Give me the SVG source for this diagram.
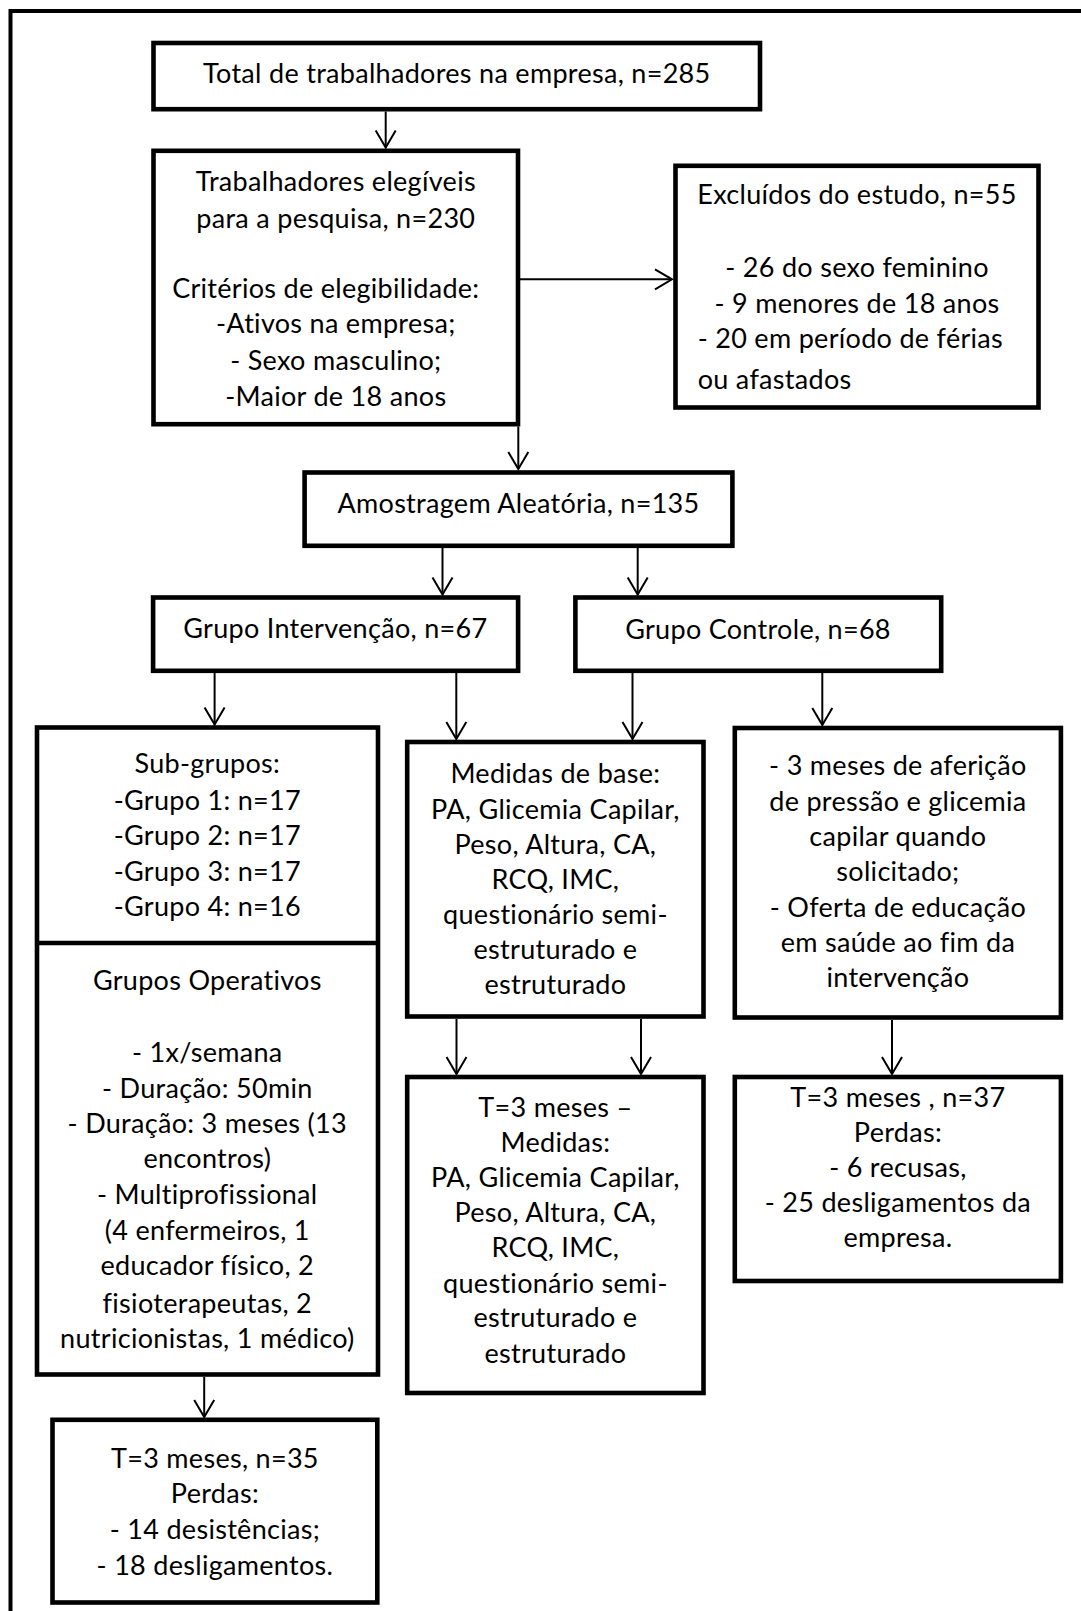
<svg xmlns="http://www.w3.org/2000/svg" width="1081" height="1611" viewBox="0 0 1081 1611">
  <style>
    .box { fill: #fff; stroke: #000; stroke-width: 4.6; }
    .frame { fill: none; stroke: #000; stroke-width: 4; }
    .link { fill: none; stroke: #000; stroke-width: 2; }
    text { font-family: Lato, "Liberation Sans", sans-serif; font-size: 27px; letter-spacing: 0.3px; font-variant-ligatures: none; fill: #000; text-anchor: middle; }
    .left { text-anchor: start; }
  </style>
  <defs>
    <marker id="arrow" markerUnits="userSpaceOnUse" viewBox="-20 -12 22 24" markerWidth="22" markerHeight="24" refX="0" refY="0" orient="auto" overflow="visible">
      <path d="M-17,-10 L0,0 L-17,10" fill="none" stroke="#000" stroke-width="2"/>
    </marker>
  </defs>
  <rect width="1081" height="1611" fill="#fff"/>

  <!-- outer frame (left and top edges) -->
  <path class="frame" d="M10.5,1611 V11 H1081"/>

  <g id="connectors">
    <line class="link" x1="385.7" y1="111.5" x2="385.7" y2="147.5" marker-end="url(#arrow)"/>
    <line class="link" x1="520" y1="279.3" x2="672" y2="279.3" marker-end="url(#arrow)"/>
    <line class="link" x1="518.3" y1="426.5" x2="518.3" y2="469" marker-end="url(#arrow)"/>
    <line class="link" x1="442.5" y1="548" x2="442.5" y2="594.5" marker-end="url(#arrow)"/>
    <line class="link" x1="637.7" y1="548" x2="637.7" y2="594.5" marker-end="url(#arrow)"/>
    <line class="link" x1="214.6" y1="673" x2="214.6" y2="724.5" marker-end="url(#arrow)"/>
    <line class="link" x1="456.3" y1="673" x2="456.3" y2="739" marker-end="url(#arrow)"/>
    <line class="link" x1="632.5" y1="673" x2="632.5" y2="739" marker-end="url(#arrow)"/>
    <line class="link" x1="822.3" y1="673" x2="822.3" y2="725" marker-end="url(#arrow)"/>
    <line class="link" x1="456.5" y1="1019" x2="456.5" y2="1074" marker-end="url(#arrow)"/>
    <line class="link" x1="641" y1="1019" x2="641" y2="1074" marker-end="url(#arrow)"/>
    <line class="link" x1="892" y1="1020" x2="892" y2="1074" marker-end="url(#arrow)"/>
    <line class="link" x1="204.2" y1="1377" x2="204.2" y2="1417" marker-end="url(#arrow)"/>
  </g>

  <g id="total">
    <rect class="box" x="153.5" y="43" width="606.5" height="66.2"/>
    <text x="456.8" y="83.3">Total de trabalhadores na empresa, n=285</text>
  </g>

  <g id="elegiveis">
    <rect class="box" x="153.5" y="150.8" width="364.5" height="273.4"/>
    <text x="335.8" y="191">Trabalhadores elegíveis</text>
    <text x="335.8" y="227.7">para a pesquisa, n=230</text>
    <text x="325.8" y="297.7">Critérios de elegibilidade:</text>
    <text x="335.8" y="333.3">-Ativos na empresa;</text>
    <text x="335.8" y="370">- Sexo masculino;</text>
    <text x="335.8" y="405.7">-Maior de 18 anos</text>
  </g>

  <g id="excluidos">
    <rect class="box" x="675.5" y="165.8" width="363" height="241.7"/>
    <text x="857" y="204">Excluídos do estudo, n=55</text>
    <text x="857" y="276.7">- 26 do sexo feminino</text>
    <text x="857" y="312.7">- 9 menores de 18 anos</text>
    <text class="left" x="697.7" y="348.3">- 20 em período de férias</text>
    <text class="left" x="697.7" y="389.3">ou afastados</text>
  </g>

  <g id="amostragem">
    <rect class="box" x="304.6" y="472.5" width="427.8" height="73.3"/>
    <text x="518.5" y="512.7">Amostragem Aleatória, n=135</text>
  </g>

  <g id="intervencao">
    <rect class="box" x="153.1" y="597.5" width="365" height="73.3"/>
    <text x="335.3" y="638.3">Grupo Intervenção, n=67</text>
  </g>

  <g id="controle">
    <rect class="box" x="575.4" y="597.5" width="365.8" height="73.3"/>
    <text x="758" y="638.8">Grupo Controle, n=68</text>
  </g>

  <g id="subgrupos">
    <rect class="box" x="37" y="727.5" width="341" height="647"/>
    <line x1="37" y1="943" x2="378" y2="943" stroke="#000" stroke-width="4.6"/>
    <text x="207.3" y="773.3">Sub-grupos:</text>
    <text x="207.3" y="810">-Grupo 1: n=17</text>
    <text x="207.3" y="845">-Grupo 2: n=17</text>
    <text x="207.3" y="880.7">-Grupo 3: n=17</text>
    <text x="207.3" y="916">-Grupo 4: n=16</text>
    <text x="207.3" y="990">Grupos Operativos</text>
    <text x="207.3" y="1061.7">- 1x/semana</text>
    <text x="207.3" y="1098.3">- Duração: 50min</text>
    <text x="207.3" y="1133.3">- Duração: 3 meses (13</text>
    <text x="207.3" y="1168.3">encontros)</text>
    <text x="207.3" y="1204.3">- Multiprofissional</text>
    <text x="207.3" y="1240">(4 enfermeiros, 1</text>
    <text x="207.3" y="1275">educador físico, 2</text>
    <text x="207.3" y="1312.7">fisioterapeutas, 2</text>
    <text x="207.3" y="1348.3">nutricionistas, 1 médico)</text>
  </g>

  <g id="medidas-base">
    <rect class="box" x="407.2" y="742" width="296.3" height="274.5"/>
    <text x="555.4" y="783.3">Medidas de base:</text>
    <text x="555.4" y="819">PA, Glicemia Capilar,</text>
    <text x="555.4" y="854">Peso, Altura, CA,</text>
    <text x="555.4" y="889">RCQ, IMC,</text>
    <text x="555.4" y="924.3">questionário semi-</text>
    <text x="555.4" y="959">estruturado e</text>
    <text x="555.4" y="994.3">estruturado</text>
  </g>

  <g id="controle-acoes">
    <rect class="box" x="734.8" y="728" width="326.1" height="289.5"/>
    <text x="897.9" y="775">- 3 meses de aferição</text>
    <text x="897.9" y="811">de pressão e glicemia</text>
    <text x="897.9" y="845.7">capilar quando</text>
    <text x="897.9" y="881">solicitado;</text>
    <text x="897.9" y="916.7">- Oferta de educação</text>
    <text x="897.9" y="951.7">em saúde ao fim da</text>
    <text x="897.9" y="986.7">intervenção</text>
  </g>

  <g id="medidas-3m">
    <rect class="box" x="407.2" y="1077" width="296.3" height="316"/>
    <text x="555.4" y="1116.7">T=3 meses –</text>
    <text x="555.4" y="1151.7">Medidas:</text>
    <text x="555.4" y="1186.7">PA, Glicemia Capilar,</text>
    <text x="555.4" y="1221.7">Peso, Altura, CA,</text>
    <text x="555.4" y="1257.3">RCQ, IMC,</text>
    <text x="555.4" y="1292.7">questionário semi-</text>
    <text x="555.4" y="1327.3">estruturado e</text>
    <text x="555.4" y="1362.7">estruturado</text>
  </g>

  <g id="controle-3m">
    <rect class="box" x="734.8" y="1077" width="326.1" height="204"/>
    <text x="897.9" y="1106.7">T=3 meses , n=37</text>
    <text x="897.9" y="1141.7">Perdas:</text>
    <text x="897.9" y="1176.7">- 6 recusas,</text>
    <text x="897.9" y="1211.7">- 25 desligamentos da</text>
    <text x="897.9" y="1246.7">empresa.</text>
  </g>

  <g id="intervencao-3m">
    <rect class="box" x="52.5" y="1419.8" width="324.8" height="182.7"/>
    <text x="214.9" y="1468.3">T=3 meses, n=35</text>
    <text x="214.9" y="1503.3">Perdas:</text>
    <text x="214.9" y="1539.3">- 14 desistências;</text>
    <text x="214.9" y="1575">- 18 desligamentos.</text>
  </g>
</svg>
